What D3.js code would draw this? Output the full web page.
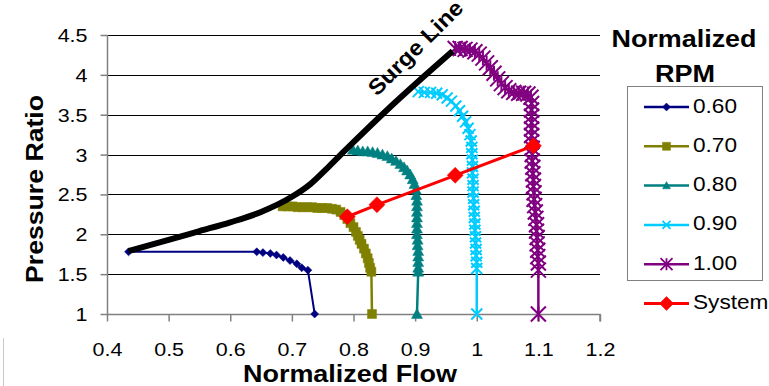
<!DOCTYPE html>
<html>
<head>
<meta charset="utf-8">
<script src="https://cdn.jsdelivr.net/npm/d3@7"></script>
<style>
  body { margin: 0; background: #fff; }
  svg { font-family: "Liberation Sans", Arial, sans-serif; }
</style>
</head>
<body>
<svg id="chart" width="769" height="386"></svg>
<script>
// values
var xTicks = [0.4, 0.5, 0.6, 0.7, 0.8, 0.9, 1, 1.1, 1.2];
var yTicks = [1, 1.5, 2, 2.5, 3, 3.5, 4, 4.5];

var surgeLine = [[0.435,1.79],[0.5,1.93],[0.55,2.04],[0.6,2.15],[0.65,2.28],[0.7,2.47],
  [0.73,2.63],[0.76,2.85],[0.79,3.08],[0.86,3.6],[0.92,4.02],[0.961,4.3]];

var rpm060 = [[0.435,1.78],[0.643,1.78],[0.653,1.77],[0.665,1.76],[0.675,1.74],[0.686,1.71],
  [0.697,1.67],[0.708,1.63],[0.716,1.58],[0.726,1.55],[0.737,1.0]];

var rpm070 = [[0.685,2.35],[0.693,2.35],[0.701,2.35],[0.709,2.34],[0.717,2.34],[0.725,2.34],
  [0.733,2.34],[0.741,2.33],[0.749,2.33],[0.757,2.33],[0.765,2.32],[0.772,2.31],[0.779,2.28],
  [0.785,2.24],[0.790,2.19],[0.795,2.14],[0.800,2.09],[0.804,2.03],[0.807,1.98],[0.810,1.93],
  [0.813,1.88],[0.817,1.82],[0.820,1.76],[0.823,1.70],[0.825,1.64],[0.827,1.58],[0.829,1.53],
  [0.830,1.0]];

var rpm080 = [[0.799,3.06],[0.807,3.05],[0.815,3.04],[0.823,3.04],[0.831,3.03],[0.839,3.02],
  [0.847,3.00],[0.855,2.98],[0.862,2.95],[0.869,2.92],[0.876,2.88],[0.882,2.84],[0.887,2.80],
  [0.892,2.75],[0.896,2.69],[0.899,2.63],[0.901,2.56],[0.902,2.49],[0.903,2.42],[0.903,2.35],
  [0.903,2.28],[0.903,2.21],[0.903,2.14],[0.903,2.07],[0.903,2.00],[0.904,1.93],[0.904,1.86],
  [0.905,1.79],[0.905,1.72],[0.905,1.65],[0.905,1.58],[0.905,1.53],[0.903,1.0]];

var rpm090 = [[0.905,3.79],[0.915,3.78],[0.925,3.78],[0.935,3.77],[0.944,3.75],[0.952,3.71],
  [0.959,3.67],[0.966,3.61],[0.972,3.55],[0.977,3.48],[0.982,3.41],[0.986,3.33],[0.989,3.25],
  [0.991,3.17],[0.992,3.09],[0.992,3.01],[0.993,2.93],[0.993,2.85],[0.993,2.77],[0.994,2.69],
  [0.994,2.61],[0.994,2.53],[0.995,2.45],[0.995,2.37],[0.996,2.29],[0.996,2.21],[0.997,2.13],
  [0.997,2.05],[0.998,1.97],[0.998,1.89],[0.999,1.81],[0.999,1.73],[1.0,1.65],[1.0,1.57],
  [1.0,1.0]];

var rpm100 = [[0.965,4.33],[0.973,4.33],[0.981,4.32],[0.989,4.31],[0.997,4.29],[1.004,4.26],
  [1.010,4.21],[1.016,4.15],[1.022,4.09],[1.028,4.02],[1.034,3.95],[1.040,3.89],[1.046,3.84],
  [1.052,3.80],[1.060,3.78],[1.068,3.77],[1.076,3.77],[1.083,3.76],[1.088,3.72],[1.089,3.64],
  [1.089,3.56],[1.089,3.48],[1.089,3.40],[1.089,3.32],[1.089,3.24],[1.089,3.16],[1.090,3.08],
  [1.090,3.00],[1.090,2.92],[1.091,2.84],[1.091,2.76],[1.092,2.68],[1.092,2.60],[1.093,2.52],
  [1.093,2.44],[1.094,2.36],[1.095,2.28],[1.096,2.20],[1.097,2.12],[1.097,2.04],[1.098,1.96],
  [1.098,1.88],[1.099,1.80],[1.099,1.72],[1.100,1.64],[1.100,1.55],[1.100,1.0]];

var systemCurve = [[0.79,2.22],[0.838,2.37],[0.965,2.74],[1.092,3.11]];

var series = [
  { name: "0.60", data: rpm060, color: "#000080", marker: "diamond", size: 8, width: 2 },
  { name: "0.70", data: rpm070, color: "#808000", marker: "square", size: 9, width: 2.5 },
  { name: "0.80", data: rpm080, color: "#008080", marker: "triangle", size: 11, width: 2.5 },
  { name: "0.90", data: rpm090, color: "#00CCFF", marker: "x", size: 11, width: 2.5 },
  { name: "1.00", data: rpm100, color: "#800080", marker: "asterisk", size: 15, width: 2.5 }
];
var system = { name: "System", data: systemCurve, color: "#FF0000", marker: "diamond", size: 16, width: 3 };

var svg = d3.select("#chart");
var STRETCH = 1.16;

function stretch(sel) {
  sel.each(function() {
    var w = this.getComputedTextLength();
    d3.select(this).attr("textLength", w * STRETCH).attr("lengthAdjust", "spacingAndGlyphs");
  });
}

var x = d3.scaleLinear().domain([0.4, 1.2]).range([107, 600]);
var y = d3.scaleLinear().domain([1, 4.5]).range([314, 35]);

// gridlines
svg.append("g").selectAll("line")
  .data(yTicks.filter(function(d) { return d > 1; }))
  .enter().append("line")
    .attr("x1", x(0.4)).attr("x2", x(1.2))
    .attr("y1", function(d) { return Math.round(y(d)) + 0.5; })
    .attr("y2", function(d) { return Math.round(y(d)) + 0.5; })
    .style("stroke", "#000").style("stroke-width", 1);

// axes
var xAxis = svg.append("g")
  .attr("transform", "translate(0," + (Math.round(y(1)) + 0.5) + ")")
  .call(d3.axisBottom(x).tickValues(xTicks).tickSize(7).tickFormat(d3.format("")));
var yAxis = svg.append("g")
  .attr("transform", "translate(" + (Math.round(x(0.4)) + 0.5) + ",0)")
  .call(d3.axisLeft(y).tickValues(yTicks).tickSize(7).tickFormat(d3.format("")));

[xAxis, yAxis].forEach(function(a) {
  a.select(".domain").style("stroke", "#808080").style("stroke-width", 1.5);
  a.selectAll(".tick line").style("stroke", "#808080").style("stroke-width", 1.5);
  a.selectAll("text").style("font-family", "Liberation Sans, Arial, sans-serif")
    .style("font-size", "18.5px").style("fill", "#000");
});
xAxis.select(".domain").attr("d", "M" + x(0.4) + ",0H" + x(1.2) + "V7");
yAxis.select(".domain").attr("d", "M0," + y(4.5) + "V" + y(1));
xAxis.selectAll("text").attr("y", 41).attr("dy", 0);
yAxis.selectAll("text").attr("x", -20).attr("dy", "0.35em");
stretch(xAxis.selectAll("text"));
stretch(yAxis.selectAll("text"));

// marker shapes
function markerPath(type, s) {
  var h = s / 2;
  if (type === "diamond") return "M0," + (-h) + "L" + h + ",0L0," + h + "L" + (-h) + ",0Z";
  if (type === "square") return "M" + (-h) + "," + (-h) + "H" + h + "V" + h + "H" + (-h) + "Z";
  if (type === "triangle") return "M0," + (-h) + "L" + h + "," + (h * 0.8) + "L" + (-h) + "," + (h * 0.8) + "Z";
  if (type === "x") return "M" + (-h) + "," + (-h) + "L" + h + "," + h + "M" + (-h) + "," + h + "L" + h + "," + (-h);
  if (type === "asterisk") return "M" + (-h) + "," + (-h) + "L" + h + "," + h + "M" + (-h) + "," + h + "L" + h + "," + (-h) + "M0," + (-h) + "V" + h;
  return "";
}
function isStrokeMarker(type) { return type === "x" || type === "asterisk"; }

var line = d3.line().x(function(d) { return x(d[0]); }).y(function(d) { return y(d[1]); });

function drawSeries(s) {
  var g = svg.append("g");
  g.append("path").datum(s.data).attr("d", line)
    .style("fill", "none").style("stroke", s.color).style("stroke-width", s.width);
  g.selectAll("path.m").data(s.data).enter().append("path")
    .attr("class", "m")
    .attr("transform", function(d) { return "translate(" + x(d[0]) + "," + y(d[1]) + ")"; })
    .attr("d", markerPath(s.marker, s.size))
    .style("fill", isStrokeMarker(s.marker) ? "none" : s.color)
    .style("stroke", s.color)
    .style("stroke-width", isStrokeMarker(s.marker) ? 2 : 0.5);
}

series.forEach(drawSeries);

// surge line
svg.append("path").datum(surgeLine)
  .attr("d", d3.line().x(function(d) { return x(d[0]); }).y(function(d) { return y(d[1]); }).curve(d3.curveMonotoneX))
  .style("fill", "none").style("stroke", "#000").style("stroke-width", 6);

svg.append("text")
  .attr("transform", "translate(377,97) rotate(-45)")
  .attr("text-anchor", "start")
  .style("font-size", "22px").style("font-weight", "bold")
  .attr("textLength", 124).attr("lengthAdjust", "spacingAndGlyphs")
  .text("Surge Line");

drawSeries(system);

// axis titles
svg.append("text")
  .attr("x", 350).attr("y", 382)
  .attr("text-anchor", "middle")
  .style("font-size", "23.5px").style("font-weight", "bold")
  .attr("textLength", 214).attr("lengthAdjust", "spacingAndGlyphs")
  .text("Normalized Flow");
svg.append("text")
  .attr("transform", "translate(43,189) rotate(-90)")
  .attr("text-anchor", "middle")
  .style("font-size", "23.5px").style("font-weight", "bold")
  .attr("textLength", 188).attr("lengthAdjust", "spacingAndGlyphs")
  .text("Pressure Ratio");

// legend
svg.append("text").attr("x", 684).attr("y", 47).attr("text-anchor", "middle")
  .style("font-size", "23px").style("font-weight", "bold")
  .attr("textLength", 145).attr("lengthAdjust", "spacingAndGlyphs")
  .text("Normalized");
svg.append("text").attr("x", 685).attr("y", 82).attr("text-anchor", "middle")
  .style("font-size", "23px").style("font-weight", "bold")
  .attr("textLength", 60).attr("lengthAdjust", "spacingAndGlyphs")
  .text("RPM");

svg.append("rect")
  .attr("x", 627.5).attr("y", 86.5).attr("width", 135).attr("height", 194)
  .style("fill", "none").style("stroke", "#808080").style("stroke-width", 1);

var legendItems = series.concat([system]);
var legend = svg.selectAll(".legend")
  .data(legendItems)
  .enter().append("g")
    .attr("class", "legend")
    .attr("transform", function(d, i) { return "translate(0," + (107 + i * 39.3) + ")"; });

legend.append("line")
  .attr("x1", 644).attr("x2", 689)
  .style("stroke", function(d) { return d.color; })
  .style("stroke-width", function(d) { return d.name === "System" ? 3 : 2.5; });
legend.append("path")
  .attr("transform", "translate(666.5,0)")
  .attr("d", function(d) {
    var s = d.name === "System" ? 14 : (d.marker === "asterisk" ? 12 : 8);
    return markerPath(d.marker, s);
  })
  .style("fill", function(d) { return isStrokeMarker(d.marker) ? "none" : d.color; })
  .style("stroke", function(d) { return d.color; })
  .style("stroke-width", function(d) { return isStrokeMarker(d.marker) ? 1.8 : 0.5; });
var legendText = legend.append("text")
  .attr("x", 693).attr("y", 5.5)
  .style("font-size", "19.5px")
  .text(function(d) { return d.name; });
stretch(legendText);

// faint frame edge at lower left
svg.append("line").attr("x1", 3.5).attr("x2", 3.5).attr("y1", 338).attr("y2", 386)
  .style("stroke", "#c8c8c8").style("stroke-width", 1);
</script>
</body>
</html>
